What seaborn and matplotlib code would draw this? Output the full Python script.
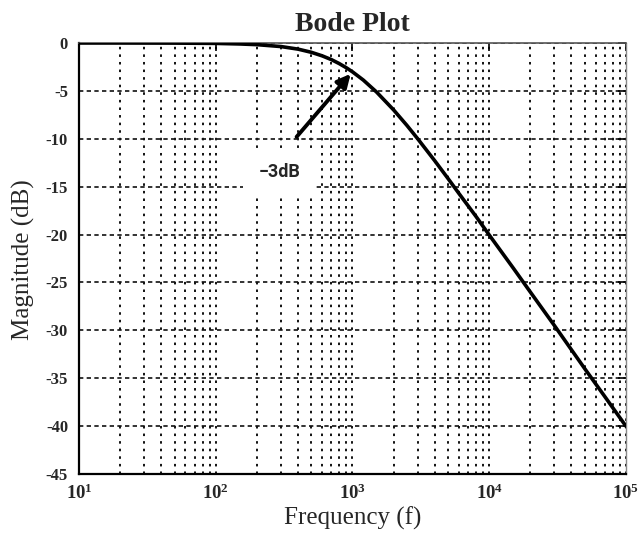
import matplotlib
matplotlib.use("Agg")
import matplotlib.pyplot as plt
import seaborn as sns
import pandas as pd
from matplotlib.ticker import LogLocator, NullFormatter

# Magnitude response of a first-order low-pass filter (cutoff 1 kHz)
freq_hz = [10, 20, 50, 100, 150, 200, 300, 400, 500, 600, 700, 800, 900,
           1000, 1200, 1500, 2000, 2500, 3000, 4000, 5000, 6000, 8000,
           10000, 15000, 20000, 30000, 50000, 70000, 100000]
magnitude_db = [0.0, 0.0, -0.01, -0.04, -0.1, -0.17, -0.37, -0.64, -0.97,
                -1.34, -1.73, -2.15, -2.58, -3.01, -3.87, -5.12, -6.99,
                -8.6, -10.0, -12.3, -14.15, -15.7, -18.1, -20.04, -23.5,
                -26.0, -29.5, -34.0, -36.9, -40.0]

x_ticks = [10, 100, 1000, 10000, 100000]
x_tick_labels = [r"$\mathbf{10^{1}}$", r"$\mathbf{10^{2}}$", r"$\mathbf{10^{3}}$",
                 r"$\mathbf{10^{4}}$", r"$\mathbf{10^{5}}$"]
y_ticks = [-45, -40, -35, -30, -25, -20, -15, -10, -5, 0]
y_tick_labels = ["-45", "-40", "-35", "-30", "-25", "-20", "-15", "-10", "-5", "0"]

cutoff_hz = 1000
cutoff_db = -3
cutoff_label = "\u22123dB"

sns.set_style("white")
plt.rcParams["font.family"] = ["Liberation Serif", "DejaVu Serif"]
plt.rcParams["mathtext.fontset"] = "custom"
plt.rcParams["mathtext.rm"] = "Liberation Serif"
plt.rcParams["mathtext.bf"] = "Liberation Serif:bold"
plt.rcParams["axes.unicode_minus"] = False

df = pd.DataFrame({"Frequency": freq_hz, "Magnitude": magnitude_db})

fig = plt.figure(figsize=(6.38, 5.39), dpi=100)
ax = fig.add_axes([0.124, 0.1206, 0.857, 0.7996])

sns.lineplot(data=df, x="Frequency", y="Magnitude", ax=ax, color="black",
             linewidth=2.6, zorder=4)

ax.set_xscale("log")
ax.set_xlim(10, 100000)
ax.set_ylim(-45, 0)

ax.set_xticks(x_ticks, x_tick_labels)
ax.xaxis.set_minor_locator(LogLocator(base=10, subs=range(2, 10)))
ax.xaxis.set_minor_formatter(NullFormatter())
ax.set_yticks(y_ticks, y_tick_labels)

for lab in ax.get_yticklabels():
    lab.set_fontweight("bold")
    lab.set_fontsize(12)
for lab in ax.get_xticklabels():
    lab.set_fontsize(13.5)

ax.tick_params(axis="both", which="major", direction="in", length=6,
               width=1.2, color="black", top=True, right=True)
ax.tick_params(axis="x", which="minor", direction="in", length=0)
ax.tick_params(axis="y", pad=8)
ax.tick_params(axis="x", pad=7)

# MATLAB-like grid: dotted verticals on every decade subdivision, dashed horizontals
ax.grid(True, axis="x", which="both", color="#111111", linestyle=(0, (1.3, 2.6)),
        linewidth=1.4)
ax.grid(True, axis="y", which="major", color="#111111", linestyle=(0, (2.6, 2.0)),
        linewidth=1.2)

for side in ["left", "bottom"]:
    ax.spines[side].set_color("black")
    ax.spines[side].set_linewidth(1.6)
ax.spines["top"].set_color("#555555")
ax.spines["top"].set_linewidth(1.2)
ax.spines["right"].set_color("#888888")
ax.spines["right"].set_linewidth(1.0)

ax.set_title("Bode Plot", fontsize=20, fontweight="bold", pad=9)
ax.set_xlabel("Frequency (f)", fontsize=18)
ax.set_ylabel("Magnitude (dB)", fontsize=18)
ax.xaxis.set_label_coords(0.5, -0.075)
ax.yaxis.set_label_coords(-0.08, 0.4965)

# Cutoff label on a white patch, with an arrow pointing at the -3 dB point
ax.text(293, -13.5, cutoff_label, fontsize=13, fontweight="bold",
        family=["Roboto", "DejaVu Sans"], ha="center", va="center", zorder=6,
        bbox=dict(boxstyle="square,pad=0.85", fc="white", ec="none"))
ax.annotate("", xy=(cutoff_hz, cutoff_db), xytext=(390, -9.8), zorder=6,
            arrowprops=dict(arrowstyle="-|>,head_length=0.8,head_width=0.4",
                            color="black", lw=2.8, shrinkA=0, shrinkB=2))

fig.savefig("out.png", dpi=100, facecolor="white")
